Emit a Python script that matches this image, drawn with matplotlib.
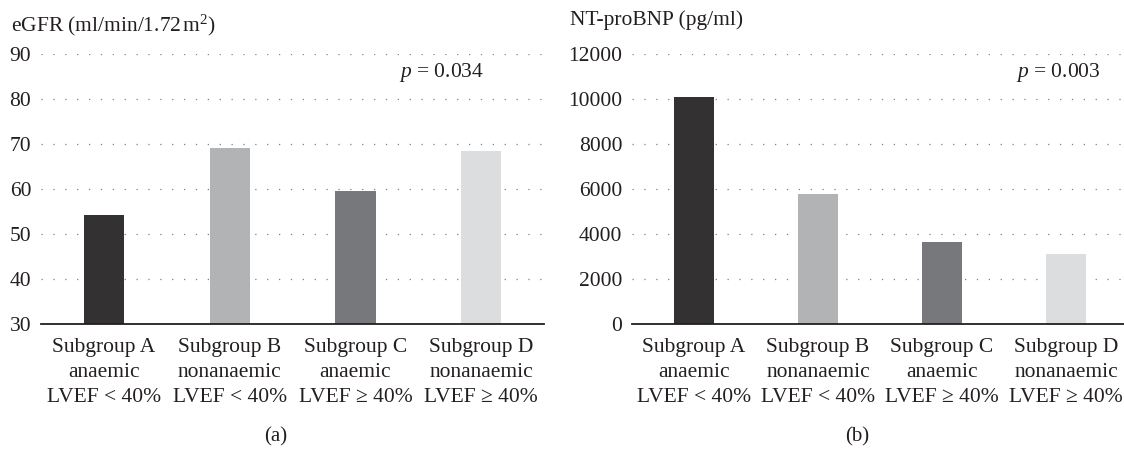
import numpy as np
import matplotlib
matplotlib.use("Agg")
import matplotlib.pyplot as plt

plt.rcParams['font.family'] = ['Liberation Serif', 'DejaVu Serif']
plt.rcParams['mathtext.fontset'] = 'custom'
plt.rcParams['mathtext.rm'] = 'Liberation Serif'
plt.rcParams['mathtext.it'] = 'Liberation Serif:italic'

groups = ["Subgroup A\nanaemic\nLVEF < 40%",
          "Subgroup B\nnonanaemic\nLVEF < 40%",
          "Subgroup C\nanaemic\nLVEF \u2265 40%",
          "Subgroup D\nnonanaemic\nLVEF \u2265 40%"]
egfr = [54.2, 69.1, 59.6, 68.4]
ntprobnp = [10090, 5780, 3640, 3110]
bar_colors = ["#333132", "#b2b3b5", "#77787b", "#dcdddf"]

egfr_ticks = [30, 40, 50, 60, 70, 80, 90]
bnp_ticks = [0, 2000, 4000, 6000, 8000, 10000, 12000]

fig = plt.figure(figsize=(11.24, 4.49), dpi=100)
ax1 = fig.add_axes([0.0365, 0.2784, 0.4475, 0.6013])
ax2 = fig.add_axes([0.5623, 0.2784, 0.4413, 0.6013])


def style(ax, values, ticks, ylabel, ptext, lx, ly, px):
    x = np.arange(len(values))
    ax.bar(x, [v - ticks[0] for v in values], bottom=ticks[0], width=0.32,
           color=bar_colors, zorder=3)
    ax.set_xlim(-0.5, 3.5)
    ax.set_ylim(ticks[0], ticks[-1])
    ax.set_yticks(ticks)
    ax.set_xticks(x)
    ax.set_xticklabels(groups, fontsize=15.5, linespacing=1.42)
    ax.tick_params(axis='both', length=0, labelsize=15.5, colors='#231f20')
    ax.tick_params(axis='y', pad=7)
    ax.tick_params(axis='x', pad=10)
    for s in ['top', 'right', 'left']:
        ax.spines[s].set_visible(False)
    ax.spines['bottom'].set_linewidth(1.3)
    ax.spines['bottom'].set_color('#231f20')
    ax.spines['bottom'].set_zorder(4)
    for t in ticks[1:]:
        ax.axhline(t, color='#808080', linewidth=0.9, linestyle=(0, (1, 8.5)),
                   zorder=1)
    ax.text(lx, ly, ylabel, transform=ax.transAxes,
            fontsize=15.5, color='#231f20', ha='left', va='center')
    ax.text(px, 0.93, ptext, transform=ax.transAxes,
            fontsize=15.5, color='#231f20', ha='right', va='center')


style(ax1, egfr, egfr_ticks, r"eGFR (ml/min/1.72$\,$m$^{2}$)", r"$p$ = 0.034",
      -0.06, 1.105, 0.88)
style(ax2, ntprobnp, bnp_ticks, "NT-proBNP (pg/ml)", r"$p$ = 0.003",
      -0.125, 1.125, 0.945)

fig.text(0.2455, 0.027, "(a)", fontsize=15, ha='center', va='center', color='#231f20')
fig.text(0.7625, 0.027, "(b)", fontsize=15, ha='center', va='center', color='#231f20')

fig.savefig("out.png", dpi=100)
